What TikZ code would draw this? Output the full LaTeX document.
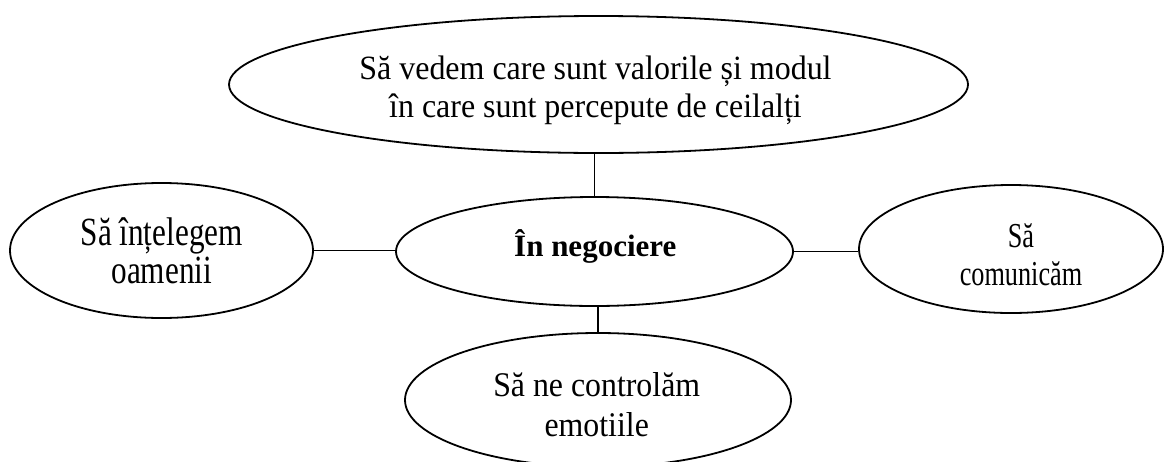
\documentclass[tikz,border=0pt]{standalone}
\usepackage{fontspec}
\setmainfont{Liberation Serif}
\newfontfamily\fTop{Liberation Serif}[FakeStretch=0.94]
\newfontfamily\fLeft{Liberation Serif}[FakeStretch=0.78]
\newfontfamily\fRight{Liberation Serif}[FakeStretch=0.75]
\newfontfamily\fBot{Liberation Serif}[FakeStretch=0.92]
\usetikzlibrary{shapes.geometric}
\newcommand\ovtext[3]{\raisebox{#2}[0pt][0pt]{\makebox[0pt]{\hspace*{#1}\begin{tabular}[b]{@{}c@{}}#3\end{tabular}}}}
\tikzset{
  oval/.style={ellipse, draw=black, line width=1.8pt, inner sep=0pt, fill=white},
  link/.style={draw=black, line width=1.8pt}
}
\begin{document}
\begin{tikzpicture}[x=1pt, y=-1pt]
\useasboundingbox (0,0) rectangle (1164,461);
\fill[white] (0,0) rectangle (1164,461);
\node[oval, minimum width=739pt, minimum height=137pt] (top) at (598.5,84.5)
  {\fTop\fontsize{34}{38}\selectfont\ovtext{-6pt}{-32.5pt}{Să vedem care sunt valorile și modul\\ în care sunt percepute de ceilalți}};
\node[oval, minimum width=397pt, minimum height=109pt] (mid) at (594.5,251.5)
  {\fontsize{31}{36}\selectfont\bfseries\ovtext{1.6pt}{-5.2pt}{În negociere}};
\node[oval, minimum width=303pt, minimum height=135pt] (left) at (161.5,250.5)
  {\fLeft\fontsize{40}{37.7}\selectfont\ovtext{0.4pt}{-32.5pt}{Să înțelegem\\ oamenii}};
\node[oval, minimum width=304pt, minimum height=128pt] (right) at (1011,249)
  {\fRight\fontsize{35}{38}\selectfont\ovtext{20pt}{-36pt}{Să\\ comunicăm}};
\node[oval, minimum width=386pt, minimum height=134pt] (bot) at (598,400)
  {\fBot\fontsize{34.6}{40.7}\selectfont\ovtext{-2.6pt}{-36.7pt}{Să ne controlăm\\ emotiile}};
\draw[link] (mid.north) -- (mid.north |- top.south);
\draw[link] (left.east) -- (left.east -| mid.west);
\draw[link] (mid.east) -- (mid.east -| right.west);
\draw[link] (bot.north) -- (bot.north |- mid.south);
\end{tikzpicture}
\end{document}
